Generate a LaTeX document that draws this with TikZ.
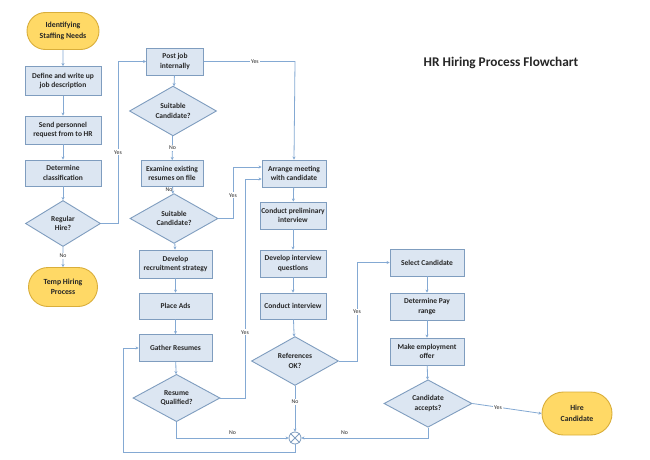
\documentclass[tikz,border=0pt]{standalone}
\usepackage{fontspec}
\setmainfont{Carlito}
\usetikzlibrary{shapes.geometric,shapes.misc,arrows.meta,calc}
\definecolor{boxfill}{HTML}{DCE6F2}
\definecolor{boxline}{HTML}{7F9DBF}
\definecolor{conn}{HTML}{84A9D3}
\definecolor{termfill}{HTML}{FFD966}
\definecolor{termline}{HTML}{D9AE3A}
\definecolor{txt}{HTML}{262626}
\begin{document}
\begin{tikzpicture}[x=1pt,y=-1pt,
  procbox/.style={rectangle,draw=boxline,fill=boxfill,line width=0.9pt,
    minimum width=74pt,minimum height=27pt,inner sep=1pt,align=center,
    font=\bfseries\fontsize{7.5}{9.5}\selectfont,text=txt},
  decbox/.style={diamond,draw=boxline,fill=boxfill,line width=0.9pt,
    minimum width=86pt,minimum height=44pt,inner sep=0pt,align=center,
    font=\bfseries\fontsize{7.5}{9.5}\selectfont,text=txt},
  termbox/.style={rounded rectangle,draw=termline,fill=termfill,line width=0.9pt,
    minimum width=74pt,minimum height=37pt,inner sep=1pt,align=center,
    font=\bfseries\fontsize{7.8}{10.5}\selectfont,text=txt},
  flow/.style={draw=conn,line width=0.8pt,-{Stealth[length=3pt,width=3pt]}},
  lbl/.style={fill=white,inner sep=1pt,font=\fontsize{5.8}{6.5}\selectfont,text=txt}
]
\useasboundingbox (0,0) rectangle (650,460);
\fill[white] (0,0) rectangle (650,460);

\node[font=\bfseries\fontsize{13.3}{15}\selectfont,text=black!85] (title) at (501,63) {HR Hiring Process Flowchart};

% column 1
\node[termbox] (start) at (63,31) {Identifying\\Staffing Needs};
\node[procbox,minimum width=76pt,minimum height=29pt] (def) at (63,81) {Define and write up\\job description};
\node[procbox,minimum width=76pt,minimum height=28pt] (send) at (63,130) {Send personnel\\request from to HR};
\node[procbox,minimum width=76pt,minimum height=26pt] (cls) at (63,173) {Determine\\classification};
\node[decbox,minimum width=75pt,minimum height=46pt] (reg) at (63,223.5) {Regular\\Hire?};
\node[termbox,minimum width=71pt,minimum height=39pt] (temp) at (63,287) {Temp Hiring\\Process};

% column 2
\node[procbox,minimum width=57pt,minimum height=27pt] (post) at (175,61.5) {Post job\\internally};
\node[decbox,minimum width=87pt,minimum height=44pt] (suit1) at (173,111) {Suitable\\Candidate?};
\node[procbox,minimum width=62pt,minimum height=26pt] (exam) at (172,173.5) {Examine existing\\resumes on file};
\node[decbox,minimum width=88pt,minimum height=43pt] (suit2) at (174,218.5) {Suitable\\Candidate?};
\node[procbox,minimum width=73pt,minimum height=28pt] (devr) at (175.5,264) {Develop\\recruitment strategy};
\node[procbox,minimum width=73pt,minimum height=26pt] (ads) at (175.5,306) {Place Ads};
\node[procbox,minimum width=73pt,minimum height=27pt] (gath) at (175.5,348) {Gather Resumes};
\node[decbox,minimum width=87pt,minimum height=44pt] (resq) at (176.5,398) {Resume\\Qualified?};

% column 3
\node[procbox,minimum width=64pt,minimum height=27pt] (arr) at (294,173.5) {Arrange meeting\\with candidate};
\node[procbox,minimum width=66pt,minimum height=27pt] (prel) at (293,215.5) {Conduct preliminary\\interview};
\node[procbox,minimum width=66pt,minimum height=27pt] (devq) at (293,263.5) {Develop interview\\questions};
\node[procbox,minimum width=66pt,minimum height=26pt] (cond) at (293,306) {Conduct interview};
\node[decbox,minimum width=87pt,minimum height=44pt] (refs) at (295,361) {References\\OK?};
\node[circle,draw=boxline,fill=white,line width=0.8pt,minimum size=12pt,inner sep=0pt] (circ) at (295,438) {};
\draw[draw=boxline,line width=0.8pt] (circ.north west) -- (circ.south east) (circ.north east) -- (circ.south west);

% column 4
\node[procbox,minimum width=74pt,minimum height=27pt] (sel) at (427,262.5) {Select Candidate};
\node[procbox,minimum width=74pt,minimum height=27pt] (pay) at (427,306.5) {Determine Pay\\range};
\node[procbox,minimum width=74pt,minimum height=27pt] (offer) at (427,351.5) {Make employment\\offer};
\node[decbox,minimum width=88pt,minimum height=43pt] (acc) at (428,403.5) {Candidate\\accepts?};
\node[termbox,minimum width=72pt,minimum height=43pt] (hire) at (577,413.5) {Hire\\Candidate};

% coordinates
\coordinate (r1) at (118,223.5);
\coordinate (r2) at (118,61.5);
\coordinate (p1) at (295,61.5);
\coordinate (s1) at (233,218.5);
\coordinate (s2) at (233,167);
\coordinate (q1) at (245,398);
\coordinate (q2) at (245,179);
\coordinate (q3) at (176.5,438);
\coordinate (c1) at (295,452);
\coordinate (c2) at (123,452);
\coordinate (c3) at (123,348);
\coordinate (f1) at (357,361);
\coordinate (f2) at (357,262.5);
\coordinate (a1) at (428,438);

% connectors column 1
\draw[flow] (start) -- (def);
\draw[flow] (def) -- (send);
\draw[flow] (send) -- (cls);
\draw[flow] (cls) -- (reg);
\draw[flow] (reg) -- node[lbl,pos=0.45]{No} (temp);
\draw[flow] (reg.east) -- (r1) -- node[lbl,pos=0.44]{Yes} (r2) -- (post.west);

% column 2
\draw[flow] (post) -- (suit1);
\draw[flow] (suit1) -- node[lbl,pos=0.5]{No} (exam);
\draw[flow] (exam) -- node[lbl,left,fill=none,pos=0.45,xshift=1pt]{No} (suit2);
\draw[flow] (suit2.east) -- (s1) -- node[lbl,pos=0.45]{Yes} (s2) -- (arr.west |- s2);
\draw[flow] (suit2) -- (devr);
\draw[flow] (devr) -- (ads);
\draw[flow] (ads) -- (gath);
\draw[flow] (gath) -- (resq);
\draw[flow] (resq.east) -- (q1) -- node[lbl,pos=0.3]{Yes} (q2) -- (arr.west |- q2);
\draw[flow] (resq.south) -- (q3) -- node[lbl,above=2pt,fill=none,pos=0.5]{No} (circ.west);
\draw[flow] (circ.south) -- (c1) -- (c2) -- (c3) -- (gath.west);
\draw[flow] (post.east) -- node[lbl,pos=0.56]{Yes} (p1) -- (arr.north);

% column 3
\draw[flow] (arr) -- (prel);
\draw[flow] (prel) -- (devq);
\draw[flow] (devq) -- (cond);
\draw[flow] (cond) -- (refs);
\draw[flow] (refs) -- node[lbl,pos=0.35]{No} (circ);
\draw[flow] (refs.east) -- (f1) -- node[lbl,pos=0.5]{Yes} (f2) -- (sel.west);

% column 4
\draw[flow] (sel) -- (pay);
\draw[flow] (pay) -- (offer);
\draw[flow] (offer) -- (acc);
\draw[flow] (acc.east) -- node[lbl,pos=0.37]{Yes} (hire.west);
\draw[flow] (acc.south) -- (a1) -- node[lbl,above=2pt,fill=none,pos=0.66]{No} (circ.east);
\end{tikzpicture}
\end{document}
